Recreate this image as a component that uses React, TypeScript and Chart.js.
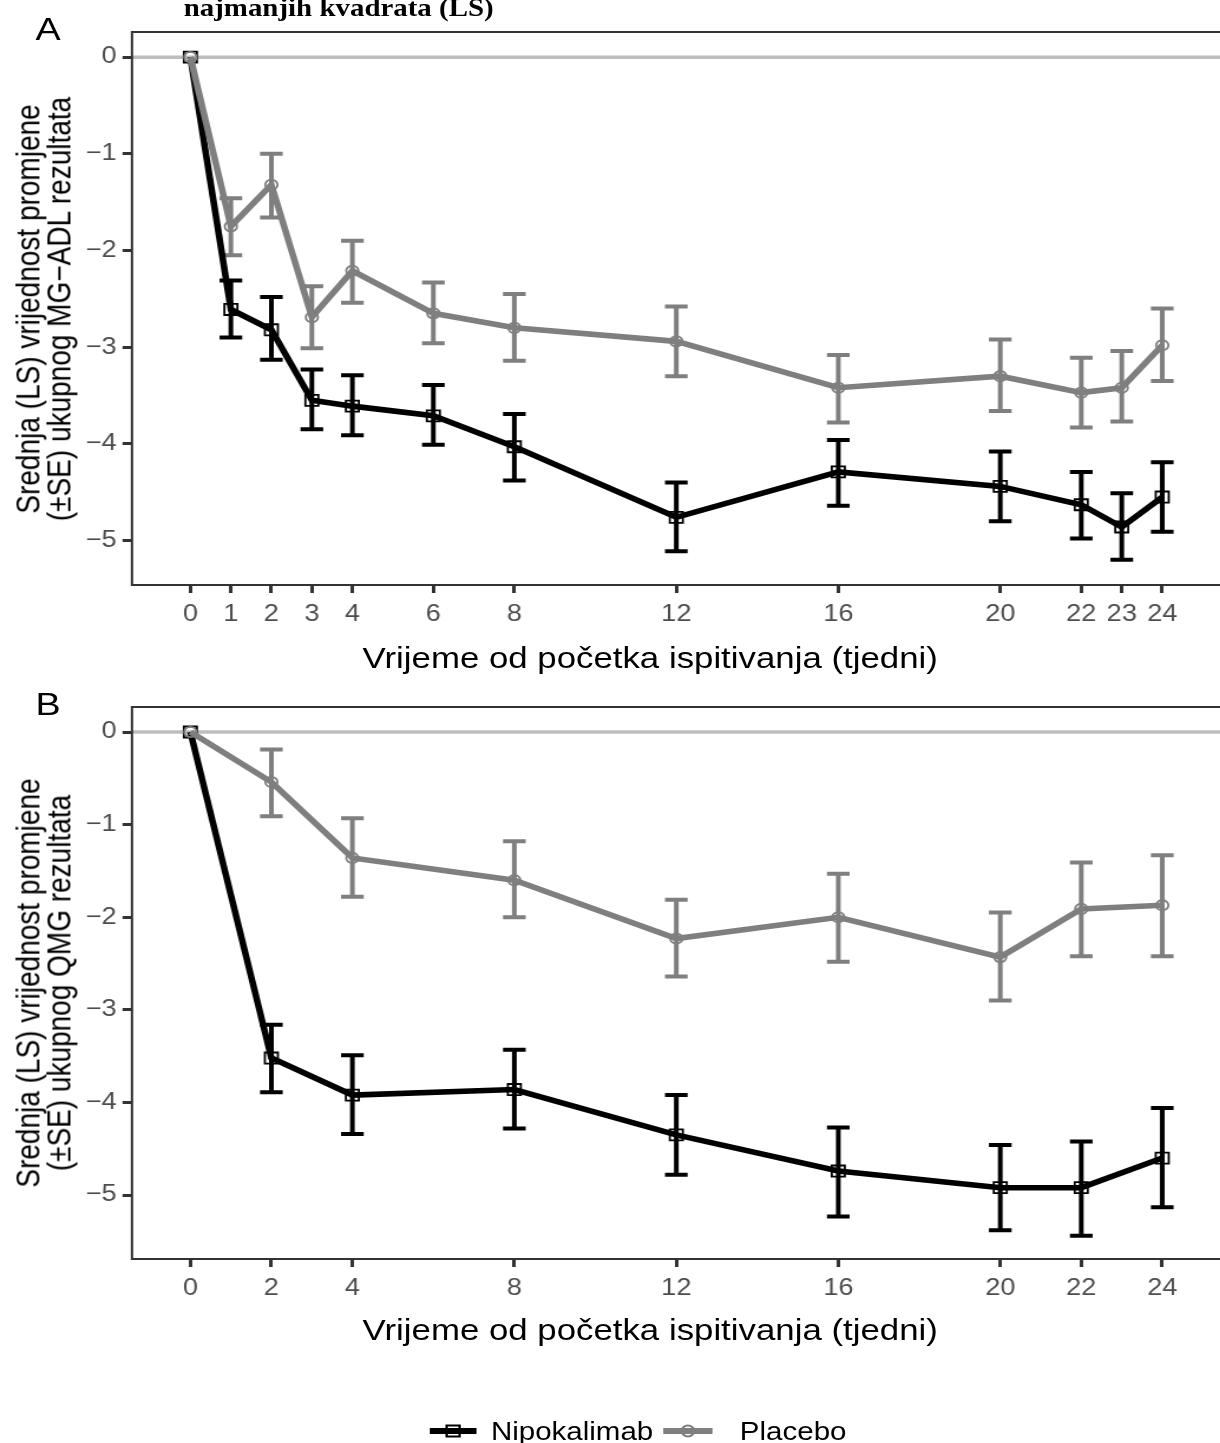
import React, { useEffect, useRef } from "react";
import { Chart, registerables } from "chart.js";

Chart.register(...registerables);

// ---------- data ----------
const weeksA = [0, 1, 2, 3, 4, 6, 8, 12, 16, 20, 22, 23, 24];
const nipoA = [0, -2.61, -2.82, -3.55, -3.61, -3.71, -4.03, -4.76, -4.29, -4.44, -4.63, -4.86, -4.55];
const nipoALo = [0, -2.9, -3.13, -3.85, -3.91, -4.01, -4.38, -5.11, -4.64, -4.8, -4.98, -5.2, -4.91];
const nipoAHi = [0, -2.31, -2.48, -3.23, -3.29, -3.39, -3.69, -4.4, -3.96, -4.08, -4.29, -4.51, -4.19];
const placA = [0, -1.75, -1.32, -2.69, -2.21, -2.65, -2.8, -2.94, -3.42, -3.3, -3.47, -3.42, -2.98];
const placALo = [0, -2.05, -1.66, -3.01, -2.54, -2.96, -3.14, -3.3, -3.78, -3.66, -3.83, -3.77, -3.35];
const placAHi = [0, -1.46, -1.0, -2.37, -1.9, -2.33, -2.45, -2.58, -3.08, -2.92, -3.11, -3.04, -2.6];

const weeksB = [0, 2, 4, 8, 12, 16, 20, 22, 24];
const nipoB = [0, -3.52, -3.92, -3.86, -4.35, -4.74, -4.92, -4.92, -4.6];
const nipoBLo = [0, -3.89, -4.34, -4.28, -4.78, -5.23, -5.38, -5.44, -5.13];
const nipoBHi = [0, -3.16, -3.49, -3.43, -3.92, -4.27, -4.46, -4.42, -4.06];
const placB = [0, -0.54, -1.36, -1.6, -2.23, -2.0, -2.43, -1.91, -1.87];
const placBLo = [0, -0.91, -1.78, -2.0, -2.64, -2.48, -2.9, -2.42, -2.42];
const placBHi = [0, -0.19, -0.93, -1.18, -1.81, -1.53, -1.95, -1.41, -1.33];

const xTicksA = [0, 1, 2, 3, 4, 6, 8, 12, 16, 20, 22, 23, 24];
const xTicksB = [0, 2, 4, 8, 12, 16, 20, 22, 24];
const yTicks = [-5, -4, -3, -2, -1, 0];

const seriesNames = ["Nipokalimab", "Placebo"];
const titleLine = "najmanjih kvadrata (LS)";
const yTitleA = ["Srednja (LS) vrijednost promjene", "(±SE) ukupnog MG\u2212ADL rezultata"];
const yTitleB = ["Srednja (LS) vrijednost promjene", "(±SE) ukupnog QMG rezultata"];
const xTitle = "Vrijeme od početka ispitivanja (tjedni)";

// ---------- style ----------
const S = 1.18; // horizontal stretch of the original figure
const FONT = '"Liberation Sans", Arial, Helvetica, sans-serif';
const SERIF = '"Liberation Serif", "Times New Roman", serif';
const BLACK = "#000000";
const GREY = "#7F7F7F";
const CAP_HALF = 0.28;
const CANVAS_W = 1045;
const CANVAS_H = 680;
const AREA_BOTTOM = 585;
const Y_AXIS_W = 111.86;

const fmt = (v: number) => (v < 0 ? "\u2212" + Math.abs(v) : String(v));

const errorBarPlugin = {
  id: "errorBarsAndFrame",
  beforeDatasetsDraw(chart: any) {
    const { ctx, chartArea, scales } = chart;
    const xs = scales.x;
    const ys = scales.y;
    ctx.save();
    ctx.beginPath();
    ctx.rect(chartArea.left, chartArea.top, chartArea.right - chartArea.left, chartArea.bottom - chartArea.top);
    ctx.clip();
    const y0 = ys.getPixelForValue(0);
    ctx.strokeStyle = "#BEBEBE";
    ctx.lineWidth = 3.5;
    ctx.beginPath();
    ctx.moveTo(chartArea.left, y0);
    ctx.lineTo(chartArea.right, y0);
    ctx.stroke();
    chart.data.datasets.forEach((ds: any) => {
      ctx.strokeStyle = ds.borderColor;
      ctx.lineWidth = 4;
      ctx.lineCap = "butt";
      ds.data.forEach((pt: any, i: number) => {
        const lo = ds.errLo[i];
        const hi = ds.errHi[i];
        if (lo === hi) return;
        const px = xs.getPixelForValue(pt.x);
        const pl = xs.getPixelForValue(pt.x - CAP_HALF);
        const pr = xs.getPixelForValue(pt.x + CAP_HALF);
        const yl = ys.getPixelForValue(lo);
        const yh = ys.getPixelForValue(hi);
        ctx.beginPath();
        ctx.moveTo(px, yl);
        ctx.lineTo(px, yh);
        ctx.moveTo(pl, yl);
        ctx.lineTo(pr, yl);
        ctx.moveTo(pl, yh);
        ctx.lineTo(pr, yh);
        ctx.stroke();
      });
    });
    ctx.restore();
  },
  afterDraw(chart: any) {
    const { ctx, chartArea } = chart;
    ctx.save();
    ctx.strokeStyle = "#333333";
    ctx.lineWidth = 2;
    ctx.strokeRect(chartArea.left, chartArea.top, chartArea.right - chartArea.left, chartArea.bottom - chartArea.top);
    ctx.restore();
  },
};

function makeConfig(
  weeks: number[],
  nipo: number[],
  nipoLo: number[],
  nipoHi: number[],
  plac: number[],
  placLo: number[],
  placHi: number[],
  xTicks: number[],
  yMin: number,
  yMax: number,
  padTop: number
): any {
  const axisGrid = {
    display: true,
    drawOnChartArea: false,
    drawTicks: true,
    tickLength: 8,
    tickWidth: 3,
    tickColor: "#333333",
  };
  return {
    type: "line",
    data: {
      datasets: [
        {
          label: seriesNames[0],
          data: weeks.map((w, i) => ({ x: w, y: nipo[i] })),
          errLo: nipoLo,
          errHi: nipoHi,
          borderColor: BLACK,
          borderWidth: 5.6,
          pointStyle: "rect",
          pointRadius: 7.8,
          pointBorderWidth: 1.8,
          pointBorderColor: BLACK,
          pointBackgroundColor: "rgba(0,0,0,0)",
          tension: 0,
          order: 1,
        },
        {
          label: seriesNames[1],
          data: weeks.map((w, i) => ({ x: w, y: plac[i] })),
          errLo: placLo,
          errHi: placHi,
          borderColor: GREY,
          borderWidth: 5.6,
          pointStyle: "circle",
          pointRadius: 5.2,
          pointBorderWidth: 1.8,
          pointBorderColor: GREY,
          pointBackgroundColor: "rgba(0,0,0,0)",
          tension: 0,
          order: 0,
        },
      ],
    },
    options: {
      responsive: false,
      animation: false,
      devicePixelRatio: 1,
      events: [],
      layout: { padding: { top: padTop, right: 0, bottom: 0, left: 0 } },
      plugins: { legend: { display: false }, tooltip: { enabled: false }, title: { display: false } },
      scales: {
        x: {
          type: "linear",
          min: -1.442,
          max: 25.47,
          afterBuildTicks: (s: any) => {
            s.ticks = xTicks.map((v) => ({ value: v }));
          },
          afterFit: (s: any) => {
            s.height = CANVAS_H - AREA_BOTTOM;
          },
          grid: axisGrid,
          border: { display: false },
          ticks: {
            color: "#4D4D4D",
            font: { family: FONT, size: 23 },
            padding: 8,
            autoSkip: false,
            maxRotation: 0,
            callback: (v: any) => fmt(Number(v)),
          },
        },
        y: {
          type: "linear",
          min: yMin,
          max: yMax,
          afterBuildTicks: (s: any) => {
            s.ticks = yTicks.map((v) => ({ value: v }));
          },
          afterFit: (s: any) => {
            s.width = Y_AXIS_W;
          },
          grid: axisGrid,
          border: { display: false },
          ticks: {
            color: "#4D4D4D",
            font: { family: FONT, size: 23 },
            padding: 5,
            autoSkip: false,
            callback: (v: any) => fmt(Number(v)),
          },
        },
      },
    },
    plugins: [errorBarPlugin],
  };
}

function Panel(props: { config: any; top: number }) {
  const ref = useRef<HTMLCanvasElement | null>(null);
  useEffect(() => {
    if (!ref.current) return;
    const chart = new Chart(ref.current, props.config);
    return () => chart.destroy();
  }, []);
  return (
    <canvas
      ref={ref}
      width={CANVAS_W}
      height={CANVAS_H}
      style={{ position: "absolute", left: 0, top: props.top, width: CANVAS_W, height: CANVAS_H }}
    />
  );
}

function YTitle(props: { lines: string[]; cx: number; cy: number }) {
  return (
    <div
      style={{
        position: "absolute",
        left: props.cx,
        top: props.cy,
        transform: "translate(-50%, -50%) rotate(-90deg)",
        whiteSpace: "nowrap",
        textAlign: "center",
        fontFamily: FONT,
        fontSize: 28,
        lineHeight: "27px",
        color: "#000",
      }}
    >
      {props.lines[0]}
      <br />
      {props.lines[1]}
    </div>
  );
}

function XTitle(props: { top: number }) {
  return (
    <div
      style={{
        position: "absolute",
        left: 551,
        top: props.top,
        transform: "translateX(-50%)",
        whiteSpace: "nowrap",
        fontFamily: FONT,
        fontSize: 29.5,
        lineHeight: "29px",
        color: "#000",
      }}
    >
      {xTitle}
    </div>
  );
}

function Tag(props: { text: string; top: number }) {
  return (
    <div
      style={{
        position: "absolute",
        left: 30,
        top: props.top,
        fontFamily: FONT,
        fontSize: 32,
        lineHeight: "32px",
        color: "#000",
      }}
    >
      {props.text}
    </div>
  );
}

export default function App() {
  const cfgA = makeConfig(weeksA, nipoA, nipoALo, nipoAHi, placA, placALo, placAHi, xTicksA, -5.46, 0.26, 32);
  const cfgB = makeConfig(weeksB, nipoB, nipoBLo, nipoBHi, placB, placBLo, placBHi, xTicksB, -5.69, 0.27, 33);
  return (
    <div
      style={{
        position: "absolute",
        left: 0,
        top: 0,
        width: 1220,
        height: 1443,
        overflow: "hidden",
        background: "#ffffff",
      }}
    >
      <div
        style={{
          position: "absolute",
          left: 0,
          top: 0,
          width: 1060,
          height: 1443,
          transform: `scaleX(${S})`,
          transformOrigin: "0 0",
        }}
      >
        <div
          style={{
            position: "absolute",
            left: 287,
            top: -4,
            transform: "translateX(-50%)",
            whiteSpace: "nowrap",
            fontFamily: SERIF,
            fontWeight: "bold",
            fontSize: 24.5,
            lineHeight: "24px",
            color: "#000",
          }}
        >
          {titleLine}
        </div>
        <Tag text="A" top={12.5} />
        <Tag text="B" top={687.5} />
        <Panel config={cfgA} top={0} />
        <Panel config={cfgB} top={674} />
        <YTitle lines={yTitleA} cx={37.3} cy={308.5} />
        <YTitle lines={yTitleB} cx={37.3} cy={983} />
        <XTitle top={642.5} />
        <XTitle top={1315} />
        {/* legend */}
        <svg width={40} height={16} style={{ position: "absolute", left: 364, top: 1423 }}>
          <line x1={0} y1={8} x2={40} y2={8} stroke={BLACK} strokeWidth={5.8} />
          <rect x={14.5} y={2.5} width={11} height={11} fill="none" stroke={BLACK} strokeWidth={2} />
        </svg>
        <div
          style={{
            position: "absolute",
            left: 416,
            top: 1419.2,
            fontFamily: FONT,
            fontSize: 25,
            lineHeight: "25px",
            whiteSpace: "nowrap",
            color: "#000",
          }}
        >
          {seriesNames[0]}
        </div>
        <svg width={42} height={16} style={{ position: "absolute", left: 562, top: 1423 }}>
          <line x1={0} y1={8} x2={42} y2={8} stroke={GREY} strokeWidth={5.8} />
          <circle cx={21} cy={8} r={5.4} fill="none" stroke={GREY} strokeWidth={2} />
        </svg>
        <div
          style={{
            position: "absolute",
            left: 627,
            top: 1419.2,
            fontFamily: FONT,
            fontSize: 25,
            lineHeight: "25px",
            whiteSpace: "nowrap",
            color: "#000",
          }}
        >
          {seriesNames[1]}
        </div>
      </div>
    </div>
  );
}
